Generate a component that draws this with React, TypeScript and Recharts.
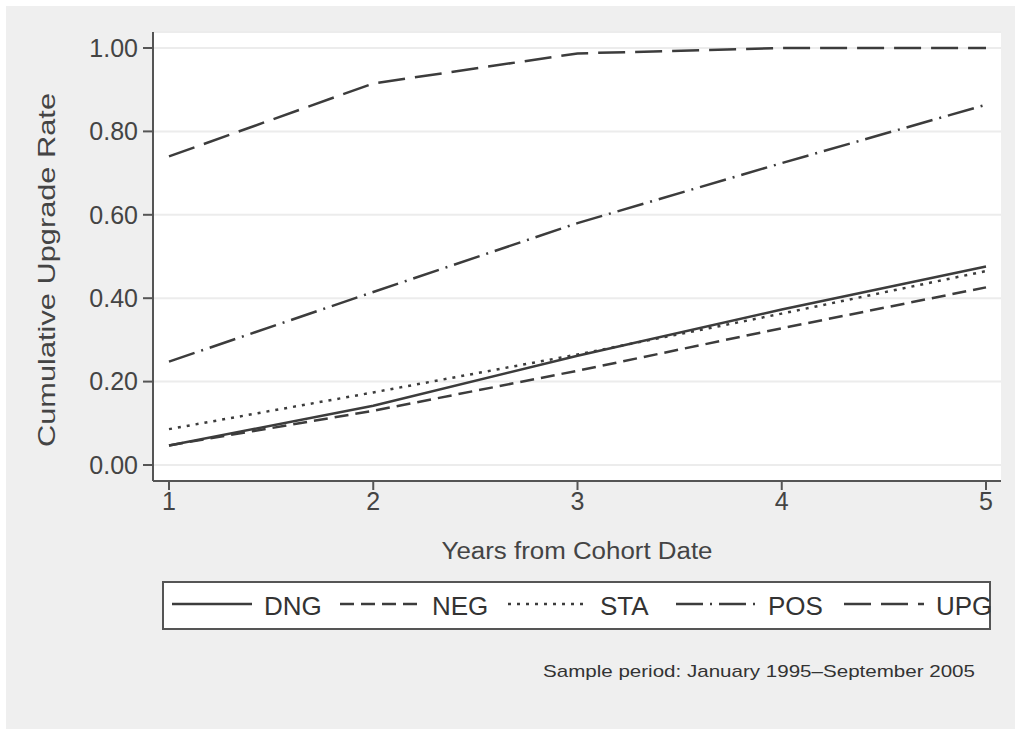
import React from 'react';
import { LineChart, Line, XAxis, YAxis, CartesianGrid, Legend, Label, Customized } from 'recharts';

// values
const years = [1, 2, 3, 4, 5];
const dng = [0.047, 0.142, 0.262, 0.373, 0.476];
const neg = [0.047, 0.13, 0.226, 0.328, 0.426];
const sta = [0.086, 0.174, 0.265, 0.363, 0.465];
const pos = [0.248, 0.415, 0.58, 0.724, 0.864];
const upg = [0.74, 0.915, 0.987, 1.0, 1.0];
const yTicks = [0, 0.2, 0.4, 0.6, 0.8, 1.0];

const seriesNames = ['DNG', 'NEG', 'STA', 'POS', 'UPG'];
const seriesValues = [dng, neg, sta, pos, upg];

const dashes: Record<string, string | undefined> = {
  DNG: undefined,
  NEG: '14 7',
  STA: '3 6',
  POS: '27 7 2 7',
  UPG: '27 10',
};

const rows = years.map((yr, i) => {
  const row: Record<string, number> = { year: yr };
  seriesNames.forEach((n, k) => (row[n] = seriesValues[k][i]));
  return row;
});

const FONT = '"Liberation Sans", Arial, Helvetica, sans-serif';
const INK = '#3c3c3c';
const AXIS = '#555';

function LegendBox() {
  return (
    <svg width={829} height={49} style={{ display: 'block' }}>
      <rect x={1} y={1} width={827} height={47} fill="#fff" stroke={AXIS} strokeWidth={2} />
      {seriesNames.map((n, i) => {
        const x0 = 10 + i * 168;
        return (
          <g key={n}>
            <line x1={x0} x2={x0 + 80} y1={23} y2={23} stroke={INK} strokeWidth={2.5} strokeDasharray={dashes[n]} />
            <text x={x0 + 92} y={34} fontSize={26} fill="#333" fontFamily={FONT}>{n}</text>
          </g>
        );
      })}
    </svg>
  );
}

export default function App() {
  return (
    <div style={{ position: 'absolute', left: 0, top: 0, width: 1015, height: 729, background: '#fff', fontFamily: FONT }}>
      <div style={{ position: 'absolute', left: 6, top: 6, width: 1009, height: 723, background: '#efefef' }} />
      <div style={{ position: 'absolute', left: 0, top: 0 }}>
        <LineChart width={1015} height={729} data={rows} margin={{ top: 32, right: 14, left: 0, bottom: 208 }}>
          <CartesianGrid vertical={false} fill="#fff" stroke="#ececec" strokeWidth={2} />
          <XAxis
            dataKey="year"
            type="number"
            domain={[1, 5]}
            ticks={years}
            padding={{ left: 16, right: 15 }}
            height={40}
            tickSize={9}
            tickMargin={2}
            axisLine={{ stroke: AXIS, strokeWidth: 2 }}
            tickLine={{ stroke: AXIS, strokeWidth: 2 }}
            tick={{ fill: '#444', fontSize: 25, fontFamily: FONT }}
          >
            <Label
              content={() => (
                <text x={577} y={559} textAnchor="middle" fontSize={23} textLength={271} lengthAdjust="spacingAndGlyphs" fill="#444" fontFamily={FONT}>
                  Years from Cohort Date
                </text>
              )}
            />
          </XAxis>
          <YAxis
            type="number"
            domain={[0, 1]}
            ticks={yTicks}
            padding={{ top: 16, bottom: 16 }}
            width={153}
            tickSize={10}
            tickMargin={5}
            tickFormatter={(v: number) => v.toFixed(2)}
            axisLine={{ stroke: AXIS, strokeWidth: 2 }}
            tickLine={{ stroke: AXIS, strokeWidth: 2 }}
            tick={{ fill: '#444', fontSize: 25, fontFamily: FONT }}
          >
            <Label
              content={() => (
                <text transform="translate(55,270) rotate(-90)" x={0} y={0} textAnchor="middle" fontSize={24} textLength={354} lengthAdjust="spacingAndGlyphs" fill="#444" fontFamily={FONT}>
                  Cumulative Upgrade Rate
                </text>
              )}
            />
          </YAxis>
          {seriesNames.map((n) => (
            <Line
              key={n}
              dataKey={n}
              type="linear"
              stroke={INK}
              strokeWidth={2.5}
              strokeDasharray={dashes[n]}
              dot={false}
              activeDot={false}
              isAnimationActive={false}
            />
          ))}
          <Legend
            verticalAlign="middle"
            align="center"
            wrapperStyle={{ left: 162, top: 581, width: 829, height: 49 }}
            content={() => <LegendBox />}
          />
          <Customized
            component={() => (
              <text x={975} y={677} textAnchor="end" fontSize={17} textLength={432} lengthAdjust="spacingAndGlyphs" fill="#333" fontFamily={FONT}>
                Sample period: January 1995–September 2005
              </text>
            )}
          />
        </LineChart>
      </div>
    </div>
  );
}
